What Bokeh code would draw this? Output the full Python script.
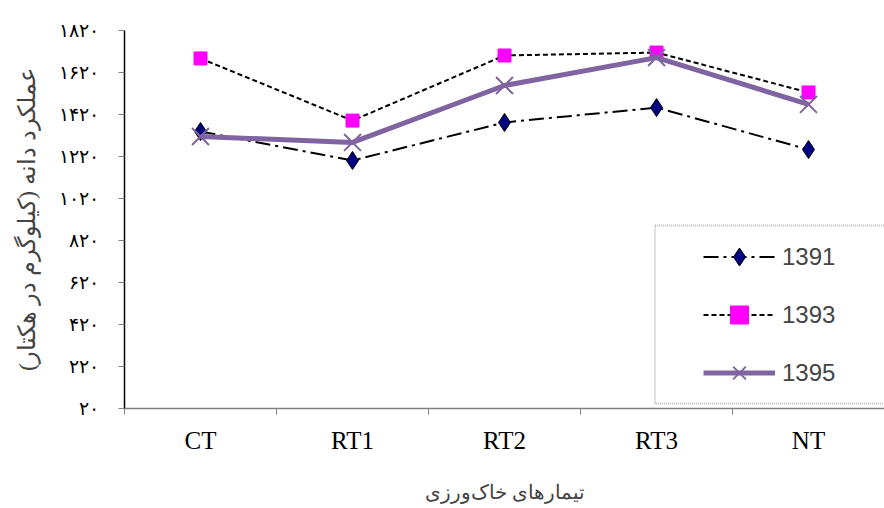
from bokeh.plotting import figure
from bokeh.models import (Range1d, LinearAxis, FixedTicker, Legend, LegendItem, BoxAnnotation)
from bokeh.embed import file_html
from bokeh.resources import INLINE

# ---- data ----
categories = ["CT", "RT1", "RT2", "RT3", "NT"]
series_names = ["1391", "1393", "1395"]
y1391 = [1339, 1201, 1382, 1453, 1253]
y1393 = [1687, 1391, 1701, 1715, 1525]
y1395 = [1315, 1287, 1558, 1691, 1468]
y_ticks = [20, 220, 420, 620, 820, 1020, 1220, 1420, 1620, 1820]
y_tick_labels = ["۲۰", "۲۲۰", "۴۲۰", "۶۲۰", "۸۲۰", "۱۰۲۰", "۱۲۲۰", "۱۴۲۰", "۱۶۲۰", "۱۸۲۰"]
x_title = "تیمارهای خاک\u200cورزی"
y_title = "عملکرد دانه (کیلوگرم در هکتار)"

SERIF = "Liberation Serif"

n = len(categories)
xpos = [i + 0.5 for i in range(n)]          # category centres on the numeric axis
bounds = list(range(n + 1))                  # category boundaries

p = figure(x_range=Range1d(0, n), y_range=Range1d(y_ticks[0], y_ticks[-1]),
           width=884, height=508, output_backend="svg", toolbar_location=None,
           x_axis_location=None, y_axis_location="left",
           min_border_left=124, min_border_right=0, min_border_top=30, min_border_bottom=100)
p.outline_line_color = None
p.xgrid.visible = False
p.ygrid.visible = False
p.background_fill_color = "white"
p.border_fill_color = "white"

# y axis
ya = p.yaxis[0]
ya.ticker = FixedTicker(ticks=y_ticks)
ya.major_label_overrides = {t: l for t, l in zip(y_ticks, y_tick_labels)}
ya.minor_tick_line_color = None
ya.major_tick_in = 0
ya.major_tick_out = 6
ya.major_tick_line_color = "#808080"
ya.axis_line_color = "black"
ya.axis_line_width = 1.5
ya.major_label_text_font = SERIF
ya.major_label_text_font_size = "19px"
ya.major_label_text_color = "black"
ya.major_label_standoff = 20
ya.axis_label = y_title
ya.axis_label_text_font = SERIF
ya.axis_label_text_font_size = "24px"
ya.axis_label_text_font_style = "normal"
ya.axis_label_standoff = 16

# x axis: labels at category centres, minor ticks at category boundaries
xa = LinearAxis(ticker=FixedTicker(ticks=xpos, minor_ticks=bounds),
                major_label_overrides={x: c for x, c in zip(xpos, categories)},
                axis_line_color="#808080", axis_line_width=1.5,
                major_tick_line_color=None, major_tick_in=0, major_tick_out=6,
                minor_tick_line_color="#808080", minor_tick_in=0, minor_tick_out=6,
                major_label_text_font=SERIF, major_label_text_font_size="25px",
                major_label_text_color="black", major_label_standoff=12,
                axis_label=x_title, axis_label_text_font=SERIF,
                axis_label_text_font_size="20px", axis_label_text_font_style="normal",
                axis_label_standoff=24)
p.add_layout(xa, "below")

# legend frame
box = BoxAnnotation(left=3.49, right=5.3, bottom=44, top=891,
                    fill_color=None, line_color="#333333", line_dash="1 1", line_width=2)
p.add_layout(box)

# series
l1 = p.line(xpos, y1391, line_color="black", line_width=2, line_dash="15 5 3 5")
s1 = p.scatter(xpos, y1391, marker="diamond", size=18, fill_color="#000080",
               line_color="black", line_width=1)
l2 = p.line(xpos, y1393, line_color="black", line_width=2, line_dash="5 3")
s2 = p.scatter(xpos, y1393, marker="square", size=13, fill_color="#FF00FF",
               line_color="#FF00FF")
l3 = p.line(xpos, y1395, line_color="#8064A2", line_width=5)
s3 = p.scatter(xpos, y1395, marker="x", size=24, line_color="#8064A2", line_width=2)

legend = Legend(items=[LegendItem(label=series_names[0], renderers=[l1, s1]),
                       LegendItem(label=series_names[1], renderers=[l2, s2]),
                       LegendItem(label=series_names[2], renderers=[l3, s3])],
                location=(579, 13), padding=0, spacing=13, glyph_width=72, glyph_height=45,
                label_standoff=7, label_text_font="Liberation Sans", label_text_font_size="24px",
                border_line_color=None, background_fill_alpha=0, margin=0)
p.add_layout(legend)

open("out.html", "w").write(file_html(p, INLINE))
